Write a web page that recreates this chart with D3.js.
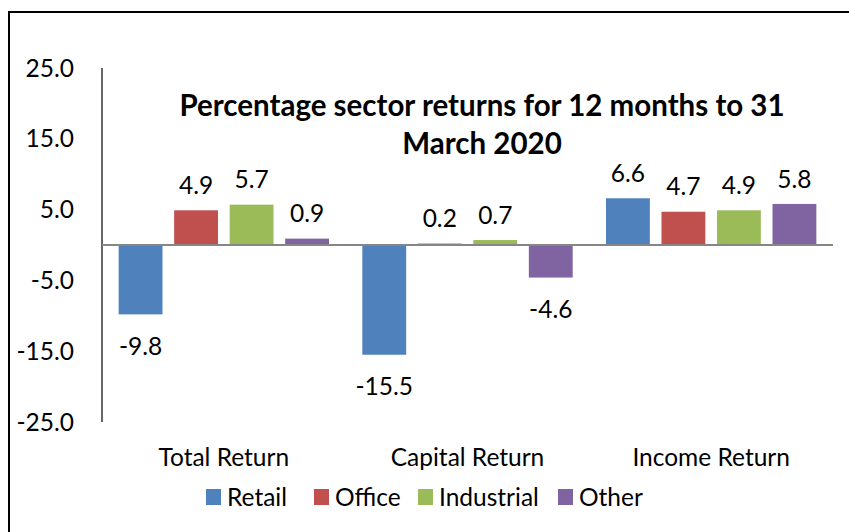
<!DOCTYPE html>
<html>
<head>
<meta charset="utf-8">
<script src="https://cdn.jsdelivr.net/npm/d3@7"></script>
<style>
  body { margin: 0; background: #fff; }
  svg { font-family: Lato, "Open Sans", sans-serif; }
</style>
</head>
<body>
<svg id="chart"></svg>
<script>
var categories = ['Total Return', 'Capital Return', 'Income Return'];
var seriesNames = ['Retail', 'Office', 'Industrial', 'Other'];
var retail = [-9.8, -15.5, 6.6];
var office = [4.9, 0.2, 4.7];
var industrial = [5.7, 0.7, 4.9];
var other = [0.9, -4.6, 5.8];
var yTicks = [25, 15, 5, -5, -15, -25];
var titleLines = ['Percentage sector returns for 12 months to 31', 'March 2020'];

var seriesValues = [retail, office, industrial, other];
var colors = ['#4F81BD', '#C0504D', '#9BBB59', '#8064A2'];

var width = 849,
    height = 532,
    plotLeft = 102,
    plotRight = 833,
    plotTop = 68,
    plotBottom = 422,
    labelSize = 24.5;

// plain hyphen for negatives, as in the original
var fmt = d3.formatLocale({ decimal: '.', thousands: ',', grouping: [3], currency: ['', ''], minus: '-' }).format('.1f');

var svg = d3.select('svg#chart')
    .attr('width', width)
    .attr('height', height);

// outer frame (only left and top edges fall inside the window)
svg.append('rect')
    .attr('x', 9)
    .attr('y', 12)
    .attr('width', 900)
    .attr('height', 600)
    .attr('fill', 'none')
    .attr('stroke', '#000')
    .attr('stroke-width', 2);

var y = d3.scaleLinear()
    .domain([-25, 25])
    .range([plotBottom, plotTop]);

var x0 = d3.scaleBand()
    .domain(categories)
    .range([plotLeft, plotRight]);

var x1 = d3.scaleBand()
    .domain(seriesNames)
    .range([0, x0.bandwidth()])
    .paddingInner(0.21)
    .paddingOuter(0.3);

// y tick labels
svg.append('g')
    .selectAll('text')
    .data(yTicks)
    .join('text')
    .attr('x', 74)
    .attr('y', function(d) { return y(d); })
    .attr('dy', '0.35em')
    .attr('text-anchor', 'end')
    .attr('font-size', labelSize)
    .attr('fill', '#000')
    .text(function(d) { return fmt(d); });

// y axis line
svg.append('line')
    .attr('x1', plotLeft)
    .attr('x2', plotLeft)
    .attr('y1', plotTop)
    .attr('y2', plotBottom)
    .attr('stroke', '#000')
    .attr('stroke-width', 1.2);

// bars
var bars = [];
seriesValues.forEach(function(vals, s) {
    vals.forEach(function(v, c) {
        bars.push({ series: seriesNames[s], cat: categories[c], value: v, color: colors[s] });
    });
});

svg.append('g')
    .selectAll('rect')
    .data(bars)
    .join('rect')
    .attr('x', function(d) { return x0(d.cat) + x1(d.series); })
    .attr('y', function(d) { return y(Math.max(0, d.value)); })
    .attr('width', x1.bandwidth())
    .attr('height', function(d) { return Math.abs(y(d.value) - y(0)); })
    .attr('fill', function(d) { return d.color; });

// zero line
svg.append('line')
    .attr('x1', plotLeft)
    .attr('x2', plotRight)
    .attr('y1', y(0))
    .attr('y2', y(0))
    .attr('stroke', '#868686')
    .attr('stroke-width', 2);

// value labels
svg.append('g')
    .selectAll('text')
    .data(bars)
    .join('text')
    .attr('x', function(d) { return x0(d.cat) + x1(d.series) + x1.bandwidth() / 2; })
    .attr('y', function(d) { return d.value >= 0 ? y(d.value) - 25 : y(d.value) + 32; })
    .attr('dy', '0.35em')
    .attr('text-anchor', 'middle')
    .attr('font-size', labelSize)
    .attr('fill', '#000')
    .text(function(d) { return fmt(d.value); });

// category labels
svg.append('g')
    .selectAll('text')
    .data(categories)
    .join('text')
    .attr('x', function(d) { return x0(d) + x0.bandwidth() / 2; })
    .attr('y', 457)
    .attr('dy', '0.35em')
    .attr('text-anchor', 'middle')
    .attr('font-size', labelSize)
    .attr('fill', '#000')
    .text(function(d) { return d; });

// title
svg.append('g')
    .selectAll('text')
    .data(titleLines)
    .join('text')
    .attr('x', 482)
    .attr('y', function(d, i) { return 106 + i * 38; })
    .attr('dy', '0.35em')
    .attr('text-anchor', 'middle')
    .attr('font-size', 29.5)
    .attr('font-weight', 'bold')
    .attr('fill', '#000')
    .text(function(d) { return d; });

// legend
var legendX = [206, 314, 418, 558];
var legend = svg.append('g')
    .selectAll('g')
    .data(seriesNames)
    .join('g')
    .attr('transform', function(d, i) { return 'translate(' + legendX[i] + ',497)'; });

legend.append('rect')
    .attr('x', 0)
    .attr('y', -8)
    .attr('width', 15)
    .attr('height', 16)
    .attr('fill', function(d, i) { return colors[i]; });

legend.append('text')
    .attr('x', 21)
    .attr('y', 0)
    .attr('dy', '0.35em')
    .attr('font-size', labelSize)
    .attr('fill', '#000')
    .text(function(d) { return d; });
</script>
</body>
</html>
